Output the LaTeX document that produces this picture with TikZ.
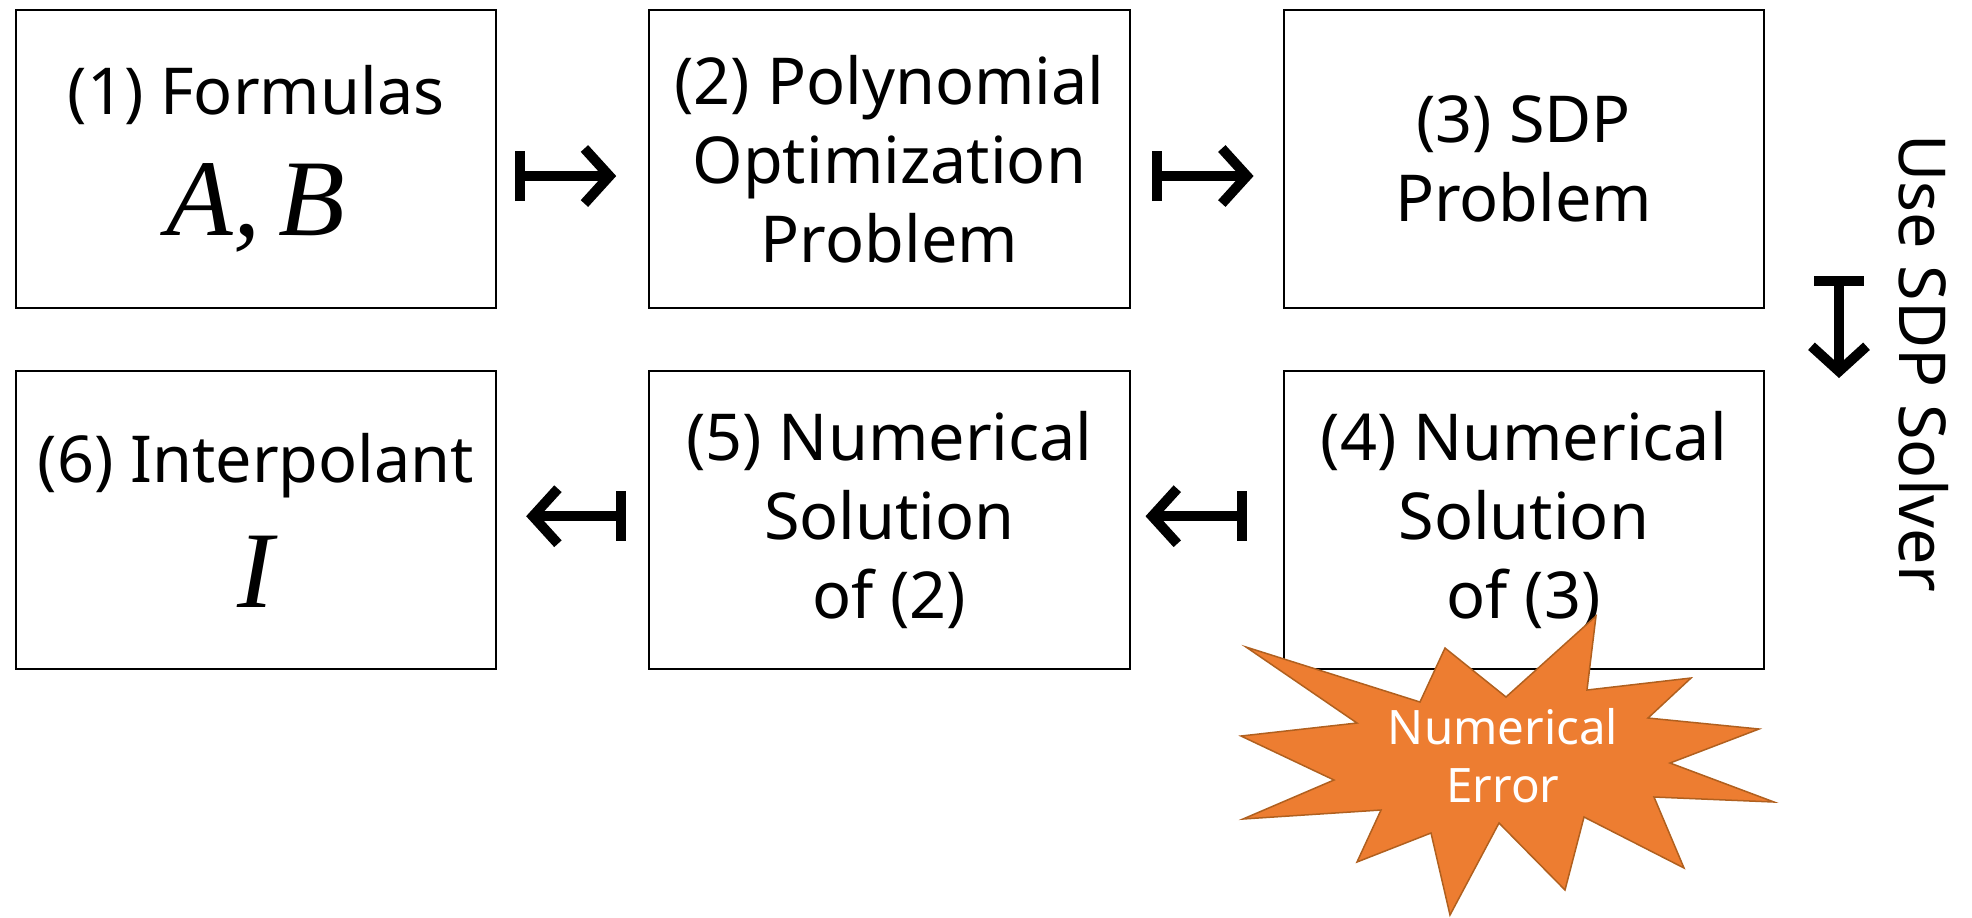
\documentclass[tikz,border=0pt]{standalone}
\usepackage{fontspec}
\setmainfont{Noto Sans}
\newfontfamily\varserif{Liberation Serif}
\usepackage{xcolor}
\usetikzlibrary{positioning, arrows.meta}
\definecolor{burstorange}{HTML}{ED7D31}
\definecolor{burstedge}{HTML}{B0601F}

\begin{document}
\begin{tikzpicture}[
        x=0.01cm, y=-0.01cm,
        box/.style={rectangle, draw, line width=0.02cm, minimum width=4.8cm, minimum height=2.98cm,
                align=center, inner sep=0pt, font=\fontsize{18.4}{22.5}\selectfont},
        mapsto/.style={line width=0.1cm, {Bar[width=0.5cm]}-{Straight Barb[length=0.25cm, width=0.55cm]}},
        burst/.style={fill=burstorange, draw=burstedge, line width=0.015cm, line join=miter}
    ]
    \useasboundingbox (0,0) rectangle (1972,917);

    % upper row
    \node[box] (f1) at (256,159) {(1) Formulas\\[0.35cm]{\varserif\itshape\fontsize{31}{32}\selectfont A,\,B}};
    \node[box, right=1.51cm of f1] (f2) {(2) Polynomial\\Optimization\\Problem};
    \node[box, right=1.52cm of f2] (f3) {(3) SDP\\Problem};

    % lower row
    \node[box, below=0.61cm of f3] (f4) {(4) Numerical\\Solution\\of (3)};
    \node[box, below=0.61cm of f2] (f5) {(5) Numerical\\Solution\\of (2)};
    \node[box, below=0.61cm of f1] (f6) {(6) Interpolant\\[0.35cm]{\varserif\itshape\fontsize{31}{32}\selectfont I}};

    % maps between the steps
    \draw[mapsto, shorten <=0.18cm, shorten >=0.32cm] ([yshift=-0.17cm]f1.east) -- ([yshift=-0.17cm]f2.west);
    \draw[mapsto, shorten <=0.21cm, shorten >=0.29cm] ([yshift=-0.17cm]f2.east) -- ([yshift=-0.17cm]f3.west);
    \draw[mapsto, shorten <=0.36cm, shorten >=0.15cm] ([yshift=0.04cm]f4.west) -- ([yshift=0.04cm]f5.east);
    \draw[mapsto, shorten <=0.22cm, shorten >=0.29cm] ([yshift=0.04cm]f5.west) -- ([yshift=0.04cm]f6.east);

    % solver step
    \coordinate (solvtop) at (1839,276);
    \coordinate (solvbot) at (1839,378);
    \draw[mapsto] (solvtop) -- (solvbot);
    \node[rotate=-90, font=\fontsize{18.4}{22.5}\selectfont] (solver) at (1924,363) {Use SDP Solver};

    % numerical error
    \draw[burst] (1246,647) -- (1420,702) -- (1445,648) -- (1506,697) -- (1596,616) -- (1587,690)
        -- (1691,678) -- (1648,718) -- (1759,729) -- (1670,763) -- (1774,802) -- (1654,797)
        -- (1684,868) -- (1584,817) -- (1565,890) -- (1499,823) -- (1450,915) -- (1431,833)
        -- (1357,862) -- (1381,810) -- (1243,819) -- (1334,780) -- (1241,736) -- (1357,723) -- cycle;
    \node[align=center, text=white, font=\fontsize{13.5}{16.5}\selectfont] (err) at (1503,756) {Numerical\\Error};
\end{tikzpicture}
\end{document}
